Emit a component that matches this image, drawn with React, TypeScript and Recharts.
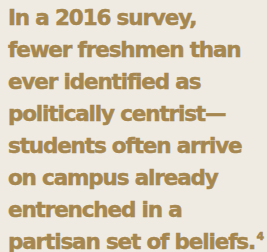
import { ComposedChart, Customized } from 'recharts';

document.body.style.margin = '0';

const LINES = [
  'In a 2016 survey,',
  'fewer freshmen than',
  'ever identified as',
  'politically centrist—',
  'students often arrive',
  'on campus already',
  'entrenched in a',
  'partisan set of beliefs.',
];
const FOOTNOTE = '4';

const BG = '#efeae2';
const INK = '#a5874f';

const Callout = () => (
  <g>
    <rect x={0} y={0} width={267} height={252} fill={BG} />
    {LINES.map((line, i) => (
      <text
        key={i}
        x={8}
        y={25 + i * 32}
        fill={INK}
        stroke={INK}
        strokeWidth={0.5}
        fontFamily="'DejaVu Sans', sans-serif"
        fontWeight={700}
        fontSize={21.5}
        letterSpacing={-1.15}
      >
        {line}
        {i === LINES.length - 1 && (
          <tspan fontSize={11} dx={1.5} dy={-9} letterSpacing={0}>{FOOTNOTE}</tspan>
        )}
      </text>
    ))}
  </g>
);

export default function App() {
  return (
    <ComposedChart width={267} height={252} data={[]} margin={{ top: 0, right: 0, bottom: 0, left: 0 }}>
      <Customized component={Callout} />
    </ComposedChart>
  );
}
